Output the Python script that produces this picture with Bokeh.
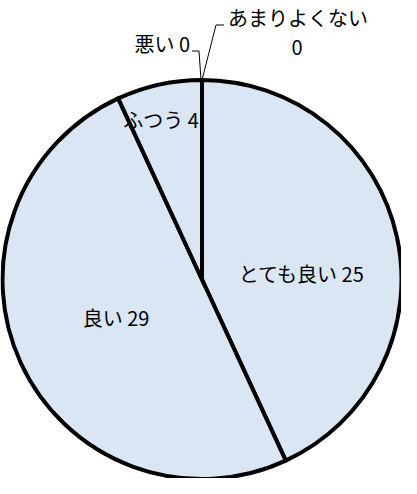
import math
from bokeh.plotting import figure
from bokeh.models import Range1d, ColumnDataSource
from bokeh.core.properties import value
from bokeh.embed import file_html
from bokeh.resources import INLINE

# ---- data ----
categories = ["とても良い", "良い", "ふつう", "悪い", "あまりよくない"]
counts = [25, 29, 4, 0, 0]

# ---- layout (pixels) ----
W, H = 401, 478
cx, cy, R = 201.5, 199.0, 199.5
FONT = "Noto Sans CJK JP"
FS = "20px"
FILL = "#dae6f3"

p = figure(width=W, height=H, output_backend="svg", toolbar_location=None,
           x_range=Range1d(0, W), y_range=Range1d(0, H), min_border=0,
           match_aspect=False)
p.axis.visible = False
p.grid.visible = False
p.outline_line_color = None
p.background_fill_color = "white"
p.border_fill_color = "white"

total = sum(counts)
starts, ends = [], []
a = math.pi / 2
for v in counts:
    da = 2 * math.pi * v / total
    starts.append(a)
    ends.append(a - da)
    a -= da

nz = [i for i, v in enumerate(counts) if v > 0]
src = ColumnDataSource(dict(
    x=[cx] * len(nz), y=[cy] * len(nz),
    start=[starts[i] for i in nz], end=[ends[i] for i in nz],
))
p.wedge(x="x", y="y", radius=R, start_angle="start", end_angle="end",
        direction="clock", source=src, fill_color=FILL,
        line_color="black", line_width=4, line_join="miter")

# leader lines for zero slices (anchored at pie top)
tx, ty = cx, cy + R
p.line([tx - 1, tx - 3, tx - 10], [ty, ty + 29, ty + 29], line_color="black", line_width=1)
p.line([tx, tx + 14, tx + 22], [ty, ty + 55, ty + 55], line_color="black", line_width=1)

# labels (offsets relative to pie centre, in pixels)
offsets = {
    "とても良い": [(100, 6, "center")],
    "良い": [(-86, -38, "center")],
    "ふつう": [(-41, 160, "center")],
    "悪い": [(-12, 236, "right")],
    "あまりよくない": [(96, 262, "center"), (95, 232, "center")],
}
lx, ly, lt, la = [], [], [], []
for c, v in zip(categories, counts):
    offs = offsets[c]
    texts = [f"{c} {v}"] if len(offs) == 1 else [c, str(v)]
    for (dx, dy, al), t in zip(offs, texts):
        lx.append(cx + dx)
        ly.append(cy + dy)
        lt.append(t)
        la.append(al)

lsrc = ColumnDataSource(dict(x=lx, y=ly, text=lt, align=la))
p.text(x="x", y="y", text="text", text_align="align", text_baseline="middle",
       source=lsrc, text_font=value(FONT), text_font_size=FS, text_color="black")

open("out.html", "w").write(file_html(p, INLINE))
